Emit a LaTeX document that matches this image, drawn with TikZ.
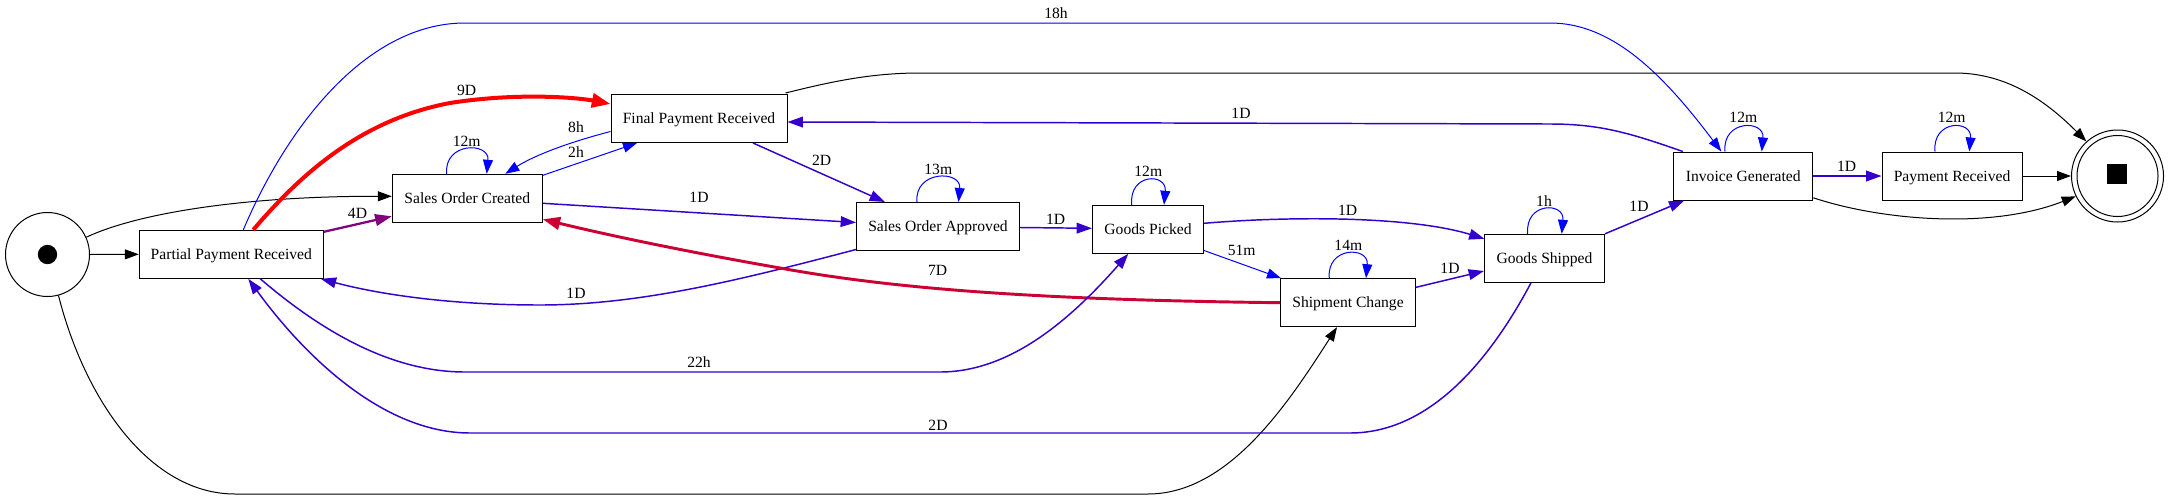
\documentclass[tikz,border=0pt]{standalone}
\usepackage{fontspec}
\setmainfont{Liberation Serif}
\usetikzlibrary{arrows.meta,calc}
\definecolor{cblue}{HTML}{0000FF}
\definecolor{cind}{HTML}{3300CC}
\definecolor{cpur}{HTML}{800080}
\definecolor{cred}{HTML}{FF0000}
\definecolor{ccrim}{HTML}{CC0033}
\tikzset{
  box/.style={draw=black, line width=0.75pt, rectangle, minimum height=36pt, inner sep=0pt,
    font=\fontsize{11.7}{14}\selectfont, text height=7.75pt, text depth=0pt},
  lbl/.style={inner sep=0pt, font=\fontsize{11.7}{14}\selectfont, text height=7.75pt, text depth=0pt},
  eblk/.style={draw=black, line width=0.75pt, -{Triangle[length=10.5pt,width=7.5pt]}},
  eblue/.style={draw=cblue, line width=0.75pt, -{Triangle[length=10.5pt,width=7.5pt]}},
  eind/.style={draw=cind, line width=1.1pt, -{Triangle[length=11.5pt,width=8pt]}},
  epur/.style={draw=cpur, line width=1.7pt, -{Triangle[length=12.5pt,width=8.7pt]}},
  ered/.style={draw=cred, line width=3pt, -{Triangle[length=14pt,width=10.5pt]}},
  ecrim/.style={draw=ccrim, line width=2.2pt, -{Triangle[length=13pt,width=9.5pt]}},
}
\begin{document}
\begin{tikzpicture}[x=0.75pt,y=-0.75pt]
\useasboundingbox (0,0) rectangle (2169,500);
% nodes
\node[circle, draw, line width=0.75pt, minimum size=63pt, inner sep=0pt] (start) at (47.5,254.5) {};
\node[circle, fill=black, minimum size=14.5pt, inner sep=0pt] (dot) at (start) {};
\node[box, minimum width=138pt] (PPR) at (231.3,254.3) {Partial Payment Received};
\node[box, minimum width=112.5pt] (SOC) at (467.3,198.3) {Sales Order Created};
\node[box, minimum width=132pt] (FPR) at (699,118.5) {Final Payment Received};
\node[box, minimum width=122.25pt] (SOA) at (938,226.5) {Sales Order Approved};
\node[box, minimum width=83.25pt] (GP) at (1148,229.3) {Goods Picked};
\node[box, minimum width=101.25pt] (SC) at (1348,302.7) {Shipment Change};
\node[box, minimum width=90pt] (GS) at (1544.5,258.3) {Goods Shipped};
\node[box, minimum width=104.25pt] (IG) at (1743.3,176) {Invoice Generated};
\node[box, minimum width=105pt] (PR) at (1952,176) {Payment Received};
\node[circle, draw, line width=0.75pt, minimum size=69pt, inner sep=0pt] (end) at (2117.5,176) {};
\node[circle, draw, line width=0.75pt, minimum size=60.75pt, inner sep=0pt] (endin) at (end) {};
\node[fill=black, minimum size=15.5pt, inner sep=0pt] (endsq) at (2117,174) {};
% edges
\draw[eblk] (start.east) -- (PPR.west);
\draw[eblk] (start.24) .. controls (140,212) and (250,196) .. ($(SOC.west)+(0,-2)$);
\draw[eblk] (start.285) .. controls (85,400) and (150,494) .. (235,494) -- (1148,494)
   .. controls (1230,494) and (1290,400) .. ($(SC.south)+(-11,0)$);
\draw[epur] ($(PPR.north east)+(0,2)$) -- ($(SOC.west)+(0,18)$);
\draw[ered] ($(PPR.north)+(22,0)$) .. controls (300,175) and (360,120) .. (450,103)
   .. controls (520,92) and (580,98) .. ($(FPR.west)+(0,-14.5)$);
\draw[eblue] ($(PPR.north)+(12,0)$) .. controls (290,120) and (370,23) .. (465,23) -- (1550,23)
   .. controls (1610,23) and (1660,70) .. ($(IG.north)+(-22,0)$);
\draw[eblue] ($(FPR.west)+(0,13)$) .. controls (570,142) and (535,155) .. ($(SOC.north)+(38,0)$);
\draw[eblue] ($(SOC.north east)+(0,1.5)$) -- ($(FPR.south)+(-62,0)$);
\draw[eblue] ($(SOC.north)+(-20.6,0)$) .. controls +(-3,-32) and +(3,-32) .. ($(SOC.north)+(19.4,0)$);
\draw[eind] ($(SOC.east)+(0,5)$) -- ($(SOA.west)+(0,-4)$);
\draw[eind] ($(FPR.south)+(54,0)$) -- ($(SOA.north)+(-53,0)$);
\draw[eind] ($(SOA.south west)+(0,-1.5)$) .. controls (740,280) and (640,305) .. (540,305)
   .. controls (440,305) and (370,292) .. ($(PPR.south east)+(-3,0)$);
\draw[eind] ($(SOA.east)+(0,1)$) -- ($(GP.west)+(0,-1)$);
\draw[eblue] ($(SOA.north)+(-21,0)$) .. controls +(-3,-32) and +(3,-32) .. ($(SOA.north)+(20.5,0)$);
\draw[eblue] ($(GP.north)+(-16.3,0)$) .. controls +(-3,-32) and +(3,-32) .. ($(GP.north)+(16,0)$);
\draw[eind] ($(GP.east)+(0,-6)$) .. controls (1290,216) and (1410,216) .. ($(GS.north west)+(0.5,5)$);
\draw[eblue] ($(GP.south east)+(0,-3.3)$) -- ($(SC.north west)+(1,0)$);
\draw[ecrim] (SC.west) .. controls (1050,300) and (900,290) .. (780,268)
   .. controls (700,254) and (620,238) .. ($(SOC.east)+(0,21)$);
\draw[eblue] ($(SC.north)+(-18.7,0)$) .. controls +(-3,-32) and +(3,-32) .. ($(SC.north)+(18,0)$);
\draw[eind] ($(SC.east)+(0,-15.4)$) -- ($(GS.west)+(0,12.7)$);
\draw[eblue] ($(GS.north)+(-16.8,0)$) .. controls +(-3,-32) and +(3,-32) .. ($(GS.north)+(17.2,0)$);
\draw[eind] (GS.north east) -- ($(IG.south west)+(11,0)$);
\draw[eind] ($(GS.south)+(-13.5,0)$) .. controls (1490,360) and (1430,433) .. (1350,433) -- (470,433)
   .. controls (380,433) and (300,350) .. ($(PPR.south)+(17,0)$);
\draw[eind] ($(PPR.south)+(29,0)$) .. controls (320,330) and (390,372) .. (465,372) -- (940,372)
   .. controls (1010,372) and (1070,320) .. ($(GP.south)+(-19.7,0)$);
\draw[eind] ($(IG.north west)+(9.5,0)$) .. controls (1630,133) and (1600,124) .. (1550,124)
   -- ($(FPR.east)+(0,3.5)$);
\draw[eblk] ($(FPR.north east)+(-2,-1)$) .. controls (830,82) and (870,73) .. (920,73) -- (1955,73)
   .. controls (2010,73) and (2050,105) .. (end.132);
\draw[eind] (IG.east) -- (PR.west);
\draw[eblue] ($(IG.north)+(-18.3,0)$) .. controls +(-3,-32) and +(3,-32) .. ($(IG.north)+(18.4,0)$);
\draw[eblue] ($(PR.north)+(-17,0)$) .. controls +(-3,-32) and +(3,-32) .. ($(PR.north)+(17.3,0)$);
\draw[eblk] (PR.east) -- (end.west);
\draw[eblk] ($(IG.south east)+(0,-2.7)$) .. controls (1880,220) and (1990,230) .. (end.206);
% labels
\node[lbl] (l1) at (357.5,213) {4D};
\node[lbl] (l2) at (466.7,90) {9D};
\node[lbl] (l3) at (1056,13) {18h};
\node[lbl] (l4) at (576,127.7) {8h};
\node[lbl] (l5) at (576,152.3) {2h};
\node[lbl] (l6) at (466.7,141) {12m};
\node[lbl] (l7) at (699,197.7) {1D};
\node[lbl] (l8) at (821.7,160.7) {2D};
\node[lbl] (l9) at (576,293) {1D};
\node[lbl] (l10) at (937.7,270) {7D};
\node[lbl] (l11) at (1055.7,219.3) {1D};
\node[lbl] (l12) at (938.3,169) {13m};
\node[lbl] (l13) at (1148.3,171.7) {12m};
\node[lbl] (l14) at (1347.7,210) {1D};
\node[lbl] (l15) at (1241.7,250) {51m};
\node[lbl] (l16) at (1348.3,245) {14m};
\node[lbl] (l17) at (1450,268.3) {1D};
\node[lbl] (l18) at (1544,201) {1h};
\node[lbl] (l19) at (1639,206) {1D};
\node[lbl] (l20) at (938,425) {2D};
\node[lbl] (l21) at (699,362) {22h};
\node[lbl] (l22) at (1241,113.3) {1D};
\node[lbl] (l23) at (1743.3,117.7) {12m};
\node[lbl] (l24) at (1951.7,117.7) {12m};
\node[lbl] (l25) at (1846.7,166) {1D};
\end{tikzpicture}
\end{document}
